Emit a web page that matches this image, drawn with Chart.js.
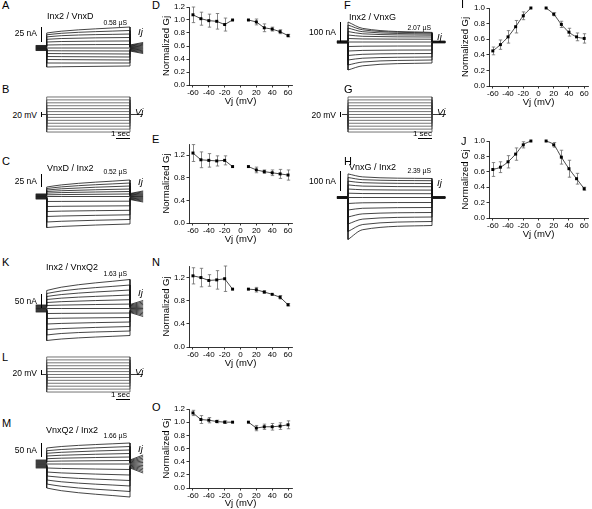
<!DOCTYPE html>
<html><head><meta charset="utf-8">
<script src="https://cdn.jsdelivr.net/npm/chart.js@4"></script>
<style>
body{margin:0;background:#fff;width:592px;height:509px;position:relative;overflow:hidden;font-family:"Liberation Sans",Arial,sans-serif;}
canvas{position:absolute;}
.t{position:absolute;white-space:nowrap;color:#000;line-height:1;}
.b{position:absolute;background:#000;}
</style></head><body>
<script>
const FONT='"Liberation Sans", Arial, sans-serif';
Chart.defaults.font.family=FONT;
Chart.defaults.color='#000';

// ---------- Gj-Vj data ----------
const vj=[-60,-50,-40,-30,-20,-10,10,20,30,40,50,60];
const xTickVals=[-60,-40,-20,0,20,40,60];
const yTicks12=[0,0.2,0.4,0.6,0.8,1.0,1.2];
const yTicks14=[0,0.2,0.4,0.6,0.8,1.0,1.2,1.4];
const yTicks10=[0,0.2,0.4,0.6,0.8,1.0];

const gjD=[1.08,1.02,0.99,0.98,0.93,1.0,1.0,0.97,0.88,0.86,0.82,0.76];
const errD=[0.12,0.10,0.10,0.12,0.10,0,0,0.045,0.06,0.03,0.03,0.02];
const gjE=[1.24,1.12,1.11,1.10,1.11,1.0,1.0,0.94,0.91,0.89,0.87,0.85];
const errE=[0.15,0.14,0.12,0.09,0.08,0,0,0.05,0.03,0.05,0.08,0.09];
const gjI=[0.45,0.53,0.63,0.76,0.90,1.0,1.0,0.92,0.79,0.69,0.63,0.61];
const errI=[0.05,0.06,0.08,0.08,0.05,0,0,0.02,0.04,0.05,0.05,0.06];
const gjJ=[0.63,0.66,0.73,0.83,0.95,1.0,1.0,0.95,0.79,0.64,0.51,0.38];
const errJ=[0.09,0.07,0.08,0.08,0.04,0,0,0.03,0.09,0.11,0.07,0.02];
const gjN=[1.23,1.20,1.15,1.16,1.18,1.0,1.0,0.99,0.95,0.91,0.86,0.73];
const errN=[0.14,0.16,0.10,0.16,0.22,0,0,0.04,0.02,0,0.03,0.02];
const gjO=[1.14,1.04,1.03,1.01,1.0,1.0,1.0,0.91,0.93,0.93,0.94,0.96];
const errO=[0.04,0.06,0.04,0.02,0.02,0,0,0.04,0.04,0.05,0.05,0.06];

// ---------- current trace data (nA, upward positive), times in s ----------
const tHold=[-0.75,0];
const tPulse=[0,1.0,5.7];
const tTail=[5.7,6.6];
// A: Inx2 / VnxD
const A_pre=[4.2,3.5,2.8,2.1,1.4,0.7,0,-0.7,-1.4,-2.1,-2.8,-3.5,-4.2];
const A_start=[25,22,18.5,14.5,10,5,0,-4.5,-9.2,-14.2,-19.2,-25,-31.7];
const A_mid=[28,24.5,20.5,15.8,10.8,5.4,0,-4.7,-9.4,-14.4,-19.4,-25,-31.2];
const A_end=[35,29.2,23.3,17.5,11.7,5.8,0,-5,-10,-15,-20,-25,-30];
const A_tailA=[5,4.2,3.3,2.5,1.7,0.8,0,-0.8,-1.7,-2.5,-3.3,-4.2,-5];
const A_tailB=[9.2,7.7,6.1,4.6,3.1,1.5,0,-1.5,-3.1,-4.6,-6.1,-7.7,-9.2];
// C: VnxD / Inx2
const C_pre=[4.2,3.5,2.8,2.1,1.4,0.7,0,-0.7,-1.4,-2.1,-2.8,-3.5,-4.2];
const C_start=[15.8,13.3,10.8,8.3,5.7,2.8,0,-8.3,-16.7,-25,-33.3,-42.5,-51.7];
const C_mid=[19.3,16,12.8,9.6,6.5,3.2,0,-8.2,-16.3,-24.4,-32.5,-41.3,-49.9];
const C_end=[27.5,22.5,17.5,12.5,8.3,4.2,0,-7.8,-15.5,-23,-30.5,-38.3,-45.8];
const C_tailA=[5,4.2,3.3,2.5,1.7,0.8,0,-0.8,-1.7,-2.5,-3.3,-4.2,-5];
const C_tailB=[9.2,7.7,6.1,4.6,3.1,1.5,0,-1.5,-3.1,-4.6,-6.1,-7.7,-9.2];
// F: Inx2 / VnxG
const F_pre=[5,4.2,3.3,2.5,1.7,0.8,0,-0.8,-1.7,-2.5,-3.3,-4.2,-5];
const F_start=[100,85,70,52.5,35,17.5,0,-22.5,-45,-67.5,-90,-115,-140];
const F_mid=[68,61,51.5,41,28.5,15.2,0,-21,-42,-61.5,-81,-100,-119];
const F_end=[48,45,40,34,25,14,0,-20,-40,-57.5,-75,-90,-105];
const F_tailA=[4,3.3,2.7,2,1.3,0.7,0,-0.7,-1.3,-2,-2.7,-3.3,-4];
const F_tailB=[4,3.3,2.7,2,1.3,0.7,0,-0.7,-1.3,-2,-2.7,-3.3,-4];
// H: VnxG / Inx2
const H_pre=[5,4.2,3.3,2.5,1.7,0.8,0,-0.8,-1.7,-2.5,-3.3,-4.2,-5];
const H_start=[118,100,82,63,42.5,21.5,0,-30,-62.5,-97.5,-132.5,-170,-210];
const H_mid=[103,89,74,57,38.8,19.7,0,-26.5,-53.8,-81.8,-108,-135,-161];
const H_end=[95,84,70,54,37,19,0,-25,-50,-75,-97.5,-120,-140];
const H_tailA=[4,3.3,2.7,2,1.3,0.7,0,-0.7,-1.3,-2,-2.7,-3.3,-4];
const H_tailB=[4,3.3,2.7,2,1.3,0.7,0,-0.7,-1.3,-2,-2.7,-3.3,-4];
// K: Inx2 / VnxQ2
const K_pre=[11.7,9.7,7.8,5.8,3.9,1.9,0,-1.9,-3.9,-5.8,-7.8,-9.7,-11.7];
const K_start=[60,50,40,30,20,10,0,-16.7,-33.3,-51.7,-70,-88.3,-106.7];
const K_mid=[71,58.5,46.5,34.5,22.8,11.4,0,-16.2,-32.3,-49.7,-67,-83.3,-101.7];
const K_end=[96.7,78.3,61.7,45,29.3,14.7,0,-15,-30,-45,-60,-75,-90];
const K_tailA=[13.3,11.1,8.9,6.7,4.4,2.2,0,-2.2,-4.4,-6.7,-8.9,-11.1,-13.3];
const K_tailB=[26.7,22.2,17.8,13.3,8.9,4.4,0,-4.4,-8.9,-13.3,-17.8,-22.2,-26.7];
// M: VnxQ2 / Inx2
const M_pre=[13.3,11.1,8.9,6.7,4.4,2.2,0,-2.2,-4.4,-6.7,-8.9,-11.1,-13.3];
const M_start=[53.3,44.3,35.7,26.7,17.7,9,0,-13.3,-26.7,-40,-53.3,-66.7,-80];
const M_mid=[58.3,48.3,39,29.2,19.4,9.8,0,-14.8,-29.7,-44.5,-59.3,-74.2,-89];
const M_end=[70,58.3,46.7,35,23.3,11.7,0,-18.3,-36.7,-55,-73.3,-91.7,-110];
const M_tailA=[13.3,11.1,8.9,6.7,4.4,2.2,0,-2.2,-4.4,-6.7,-8.9,-11.1,-13.3];
const M_tailB=[30,25,20,15,10,5,0,-5,-10,-15,-20,-25,-30];
// Vj protocol levels (mV)
const vSteps=[60,50,40,30,20,10,0,-10,-20,-30,-40,-50,-60];

// ---------- helpers ----------
function txt(s,x,y,size,anchor,extra){
  const d=document.createElement('div');d.className='t';d.textContent=s;
  d.style.fontSize=size+'px';d.style.left=x+'px';d.style.top=y+'px';
  const tx=anchor==='c'?'-50%':anchor==='r'?'-100%':'0';
  d.style.transform='translate('+tx+',-50%)';
  if(extra)d.style.cssText+=extra;
  document.body.appendChild(d);
}
function bar(x,y,w,h){const d=document.createElement('div');d.className='b';
  d.style.left=x+'px';d.style.top=y+'px';d.style.width=w+'px';d.style.height=h+'px';document.body.appendChild(d);}
function canvasAt(b){const c=document.createElement('canvas');c.width=b[2];c.height=b[3];
  c.style.left=b[0]+'px';c.style.top=b[1]+'px';c.style.width=b[2]+'px';c.style.height=b[3]+'px';document.body.appendChild(c);return c;}

const errPlugin={id:'err',beforeDatasetsDraw(chart,a,o){
  const {ctx,scales:{x,y}}=chart;ctx.save();ctx.strokeStyle='#6a6a6a';ctx.lineWidth=0.8;
  o.xs.forEach((xv,i)=>{const e=o.errs[i];if(!e)return;const px=Math.round(x.getPixelForValue(xv))+0.5;
    const t=y.getPixelForValue(o.vals[i]+e),b=y.getPixelForValue(o.vals[i]-e);
    ctx.beginPath();ctx.moveTo(px,t);ctx.lineTo(px,b);ctx.moveTo(px-1.7,t);ctx.lineTo(px+1.7,t);
    ctx.moveTo(px-1.7,b);ctx.lineTo(px+1.7,b);ctx.stroke();});
  ctx.restore();}};

function graph(box,area,vals,errs,yMax,yTicks,smooth){
  const cv=canvasAt(box);
  const neg=[],pos=[];
  vj.forEach((v,i)=>(v<0?neg:pos).push({x:v,y:vals[i]}));
  const ds=d=>({data:d,borderColor:'#1a1a1a',borderWidth:0.8,pointStyle:'rect',pointRadius:2.1,
    pointBackgroundColor:'#000',pointBorderWidth:0,tension:smooth?0.4:0,clip:false,
    cubicInterpolationMode:smooth?'monotone':'default'});
  new Chart(cv,{type:'line',data:{datasets:[ds(neg),ds(pos)]},plugins:[errPlugin],
    options:{animation:false,responsive:false,devicePixelRatio:1,
      layout:{padding:{left:0,top:area[1]-box[1],right:box[0]+box[2]-area[2],bottom:0}},
      plugins:{legend:{display:false},tooltip:{enabled:false},err:{xs:vj,vals:vals,errs:errs}},
      scales:{
        x:{type:'linear',min:-65,max:65,
          afterBuildTicks:s=>{s.ticks=xTickVals.map(v=>({value:v}));},
          afterFit:s=>{s.height=box[1]+box[3]-area[3];},
          grid:{drawOnChartArea:false,color:'#000',tickLength:2.5,lineWidth:0.8},
          border:{color:'#000',width:0.8},
          ticks:{font:{size:8},color:'#000',padding:0,maxRotation:0,autoSkip:false},
          title:{display:true,text:'Vj (mV)',font:{size:9.5},padding:{top:0,bottom:0}}},
        y:{type:'linear',min:0,max:yMax,
          afterBuildTicks:s=>{s.ticks=yTicks.map(v=>({value:v}));},
          afterFit:s=>{s.width=area[0]-box[0];},
          grid:{drawOnChartArea:false,color:'#000',tickLength:2.5,lineWidth:0.8},
          border:{color:'#000',width:0.8},
          ticks:{font:{size:8},color:'#000',padding:1.5,callback:v=>v.toFixed(1)},
          title:{display:true,text:'Normalized Gj',font:{size:9.5},padding:{top:0,bottom:0}}}
      }}});
}

function traceChart(box,zeroY,pxPerUnit,x0px,pulsePx,pre,start,mid,end,tailA,tailB,opts){
  opts=opts||{};
  const cv=canvasAt(box);
  const pxPerT=pulsePx/(tPulse[2]-tPulse[0]);
  const tMin=-(x0px-box[0])/pxPerT, tMax=tMin+box[2]/pxPerT;
  const yMax=(zeroY-box[1])/pxPerUnit, yMin=-(box[1]+box[3]-zeroY)/pxPerUnit;
  const col=opts.color||'#151515', lw=opts.lw||0.8;
  const sets=[];
  pre.forEach((p,i)=>{
    sets.push({data:[{x:tHold[0],y:p},{x:tHold[1],y:p},{x:tPulse[0],y:start[i]}],tension:0});
    sets.push({data:tPulse.map((t,k)=>({x:t,y:[start[i],mid[i],end[i]][k]})),tension:0.4,cubicInterpolationMode:'monotone'});
    sets.push({data:[{x:tTail[0],y:end[i]},{x:tTail[0],y:tailA[i]},{x:tTail[1],y:tailB[i]}],tension:0});
  });
  sets.forEach(s=>{s.borderColor=col;s.borderWidth=lw;s.pointRadius=0;s.clip=false;});
  new Chart(cv,{type:'line',data:{datasets:sets},
    options:{animation:false,responsive:false,devicePixelRatio:1,layout:{padding:0},
      plugins:{legend:{display:false},tooltip:{enabled:false}},
      scales:{x:{type:'linear',display:false,min:tMin,max:tMax},y:{type:'linear',display:false,min:yMin,max:yMax}}}});
}

function protocol(box,zeroY,pxPerMV,x0px,pulsePx,holdL,holdR){
  const cv=canvasAt(box);
  const pxPerT=pulsePx/(tPulse[2]-tPulse[0]);
  const tMin=-(x0px-box[0])/pxPerT, tMax=tMin+box[2]/pxPerT;
  const yMax=(zeroY-box[1])/pxPerMV, yMin=-(box[1]+box[3]-zeroY)/pxPerMV;
  const tL=-holdL/pxPerT, tR=tPulse[2]+holdR/pxPerT;
  const sets=vSteps.map(v=>({data:[{x:tL,y:0},{x:0,y:0},{x:0,y:v},{x:tPulse[2],y:v},{x:tPulse[2],y:0},{x:tR,y:0}],
    borderColor:'#3a3a3a',borderWidth:0.7,pointRadius:0,tension:0}));
  new Chart(cv,{type:'line',data:{datasets:sets},
    options:{animation:false,responsive:false,devicePixelRatio:1,layout:{padding:0},
      plugins:{legend:{display:false},tooltip:{enabled:false}},
      scales:{x:{type:'linear',display:false,min:tMin,max:tMax},y:{type:'linear',display:false,min:yMin,max:yMax}}}});
}

// ---------- Gj plots ----------
graph([161,0,136,107],[189,7,292,85],gjD,errD,1.2,yTicks12,false);
graph([161,125,136,120],[189,144,292,223],gjE,errE,1.4,yTicks14,false);
graph([161,250,136,119],[189,266,292,347],gjN,errN,1.4,yTicks14,false);
graph([161,395,136,114],[189,409,292,488],gjO,errO,1.2,yTicks12,false);
graph([460,0,132,108],[489,8,590,86],gjI,errI,1.0,yTicks10,true);
graph([460,125,132,115],[489,141,590,218],gjJ,errJ,1.0,yTicks10,true);

// ---------- traces ----------
traceChart([34,18,112,60],48,0.6,46.7,83.3,A_pre,A_start,A_mid,A_end,A_tailA,A_tailB);
traceChart([34,170,112,70],196.5,0.6,46.7,83.3,C_pre,C_start,C_mid,C_end,C_tailA,C_tailB);
traceChart([334,14,116,64],42,0.2,348,84,F_pre,F_start,F_mid,F_end,F_tailA,F_tailB);
traceChart([334,166,116,82],197.5,0.2,348,84,H_pre,H_start,H_mid,H_end,H_tailA,H_tailB);
traceChart([34,270,112,76],308.5,0.3,46.7,83.3,K_pre,K_start,K_mid,K_end,K_tailA,K_tailB);
traceChart([34,436,112,72],464,0.3,46.7,83.3,M_pre,M_start,M_mid,M_end,M_tailA,M_tailB);

protocol([38,92,108,44],114.5,0.292,46.7,83.3,4,13);
protocol([338,92,112,44],114.5,0.292,348,84,6,14);
protocol([38,352,108,44],374.5,0.292,46.7,83.3,4,13);

// ---------- labels ----------
[['A',2,5],['B',2,89],['C',2,161],['D',152,5],['E',152,139],['F',344,5],['G',344,89],['H',344,161],
 ['I',461,4],['J',461,141],['K',2,262],['L',2,357],['M',2,423],['N',152,262],['O',152,407]]
 .forEach(p=>txt(p[0],p[1],p[2],11,'l'));

txt('Inx2 / VnxD',47,16,9,'l');txt('0.58 \u00b5S',127,23,6.8,'r');
txt('25 nA',37,33,8.5,'r');bar(41,27,1,15);txt('Ij',138,32,9.5,'l','font-style:italic');
txt('20 mV',37,115,8.5,'r');bar(41,112,1,5);txt('Vj',135,112,9.5,'l','font-style:italic');
txt('1 sec',130,134,8,'r');bar(116,138,14,1);
txt('VnxD / Inx2',47,168,9,'l');txt('0.52 \u00b5S',127,172,6.8,'r');
txt('25 nA',37,181,8.5,'r');bar(41,174,1,13);txt('Ij',138,182,9.5,'l','font-style:italic');

txt('Inx2 / VnxG',349,17,9,'l');txt('2.07 \u00b5S',431,28,6.8,'r');
txt('100 nA',336,32,8.5,'r');bar(340,22,1,20);txt('Ij',437,37,9.5,'l','font-style:italic');
txt('20 mV',336,115,8.5,'r');bar(340,112,1,5);txt('Vj',437,112,9.5,'l','font-style:italic');
txt('1 sec',432,134,8,'r');bar(418,138,14,1);
txt('VnxG / Inx2',349,167,9,'l');txt('2.39 \u00b5S',431,171,6.8,'r');
txt('100 nA',336,181,8.5,'r');bar(340,171,1,20);txt('Ij',437,183,9.5,'l','font-style:italic');

txt('Inx2 / VnxQ2',46,267,9,'l');txt('1.63 \u00b5S',127,274,6.8,'r');
txt('50 nA',37,301,8.5,'r');bar(41,294,1,14);txt('Ij',138,293,9.5,'l','font-style:italic');
txt('20 mV',37,373,8.5,'r');bar(41,370,1,5);txt('Vj',135,372,9.5,'l','font-style:italic');
txt('1 sec',130,395,8,'r');bar(116,399,14,1);
txt('VnxQ2 / Inx2',46,430,9,'l');txt('1.66 \u00b5S',127,436,6.8,'r');
txt('50 nA',37,450,8.5,'r');bar(41,443,1,14);txt('Ij',138,449,9.5,'l','font-style:italic');
</script>
</body></html>
